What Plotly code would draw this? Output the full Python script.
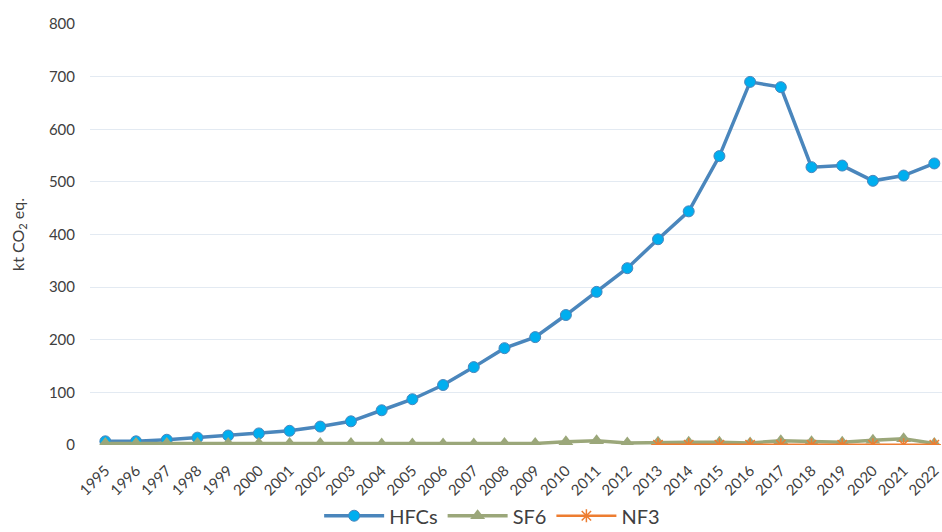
import plotly.graph_objects as go

years = list(range(1995, 2023))

hfcs = [7, 7, 10, 14, 18, 22, 27, 35, 45, 66, 87, 114, 148, 184, 205, 247,
        291, 336, 391, 444, 549, 690, 680, 528, 531, 502, 512, 535]
sf6 = [3, 3, 3, 3, 3, 3, 3, 3, 3, 2, 2, 2, 2, 3, 3, 6,
       8, 4, 5, 5, 5, 4, 8, 6, 5, 9, 12, 3]
nf3_years = list(range(2013, 2023))
nf3 = [0.5, 0.5, 0.5, 0.5, 0.5, 0.5, 0.5, 0.5, 0.5, 0.5]

y_ticks = [0, 100, 200, 300, 400, 500, 600, 700, 800]

font_family = "Lato, 'Open Sans', sans-serif"
tick_color = "#404040"

fig = go.Figure()

fig.add_trace(go.Scatter(
    x=years, y=hfcs, name="HFCs", mode="lines+markers",
    line=dict(color="#4A86BC", width=3.5),
    marker=dict(symbol="circle", size=11, color="#00AEEF",
                line=dict(color="#4A86BC", width=1)),
))
fig.add_trace(go.Scatter(
    x=years, y=sf6, name="SF6", mode="lines+markers",
    line=dict(color="#9BA77A", width=3.5),
    marker=dict(symbol="triangle-up", size=13, color="#9BA77A"),
))
fig.add_trace(go.Scatter(
    x=nf3_years, y=nf3, name="NF3", mode="lines+markers",
    line=dict(color="#ED7D31", width=2.5),
    marker=dict(symbol="asterisk-open", size=11,
                line=dict(color="#ED7D31", width=1.5)),
))

fig.update_layout(
    width=942, height=532,
    margin=dict(l=90, r=0, t=24, b=87, autoexpand=False),
    paper_bgcolor="white", plot_bgcolor="white",
    font=dict(family=font_family, color=tick_color, size=15),
    showlegend=True,
    legend=dict(orientation="h", x=0.472, xanchor="center", y=-0.168,
                yanchor="middle", font=dict(size=20, color=tick_color),
                itemwidth=60, tracegroupgap=0),
    xaxis=dict(
        range=[1994.5, 2022.25], tickmode="array", tickvals=years,
        ticktext=[str(y) for y in years], tickangle=-45,
        showgrid=False, zeroline=False, showline=False, automargin=False,
        tickfont=dict(size=15, color=tick_color), ticks="", ticklabelstandoff=13,
    ),
    yaxis=dict(
        range=[0, 800], tickvals=y_ticks, showgrid=True, automargin=False,
        gridcolor="#E3EAF2", gridwidth=1, zeroline=False, showline=False,
        tickfont=dict(size=15, color=tick_color), ticks="", ticklabelstandoff=14,
        title=dict(text="kt CO<sub>2</sub> eq.", font=dict(size=16, color=tick_color),
                   standoff=20),
    ),
)

fig.write_html("out.html")
